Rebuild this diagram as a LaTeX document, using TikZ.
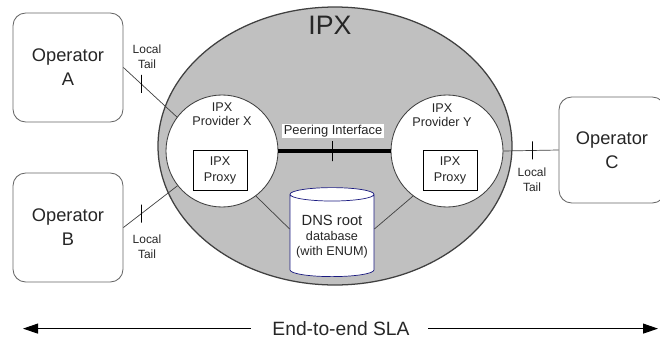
\documentclass[tikz,border=0pt]{standalone}
\usepackage{fontspec}
\setmainfont{Liberation Sans}
\usetikzlibrary{arrows.meta,positioning,shapes.geometric,calc}
\definecolor{ipxgray}{HTML}{C0C0C0}
\definecolor{ipxedge}{HTML}{404040}
\definecolor{dbnavy}{HTML}{1A1A80}
\begin{document}
\begin{tikzpicture}[
    opbox/.style={rectangle, rounded corners=9pt, draw=black!60, line width=0.6pt,
                  minimum width=2.75cm, minimum height=2.725cm, align=center,
                  font=\fontsize{13}{17}\selectfont},
    provider/.style={circle, draw=ipxedge, fill=white, line width=0.6pt,
                     minimum size=2.8cm, inner sep=0pt},
    proxybox/.style={rectangle, draw=black, fill=white, line width=0.5pt,
                     minimum width=1.35cm, minimum height=1cm, align=center,
                     font=\fontsize{9}{11.4}\selectfont},
    tail/.style={draw=ipxedge, line width=0.5pt},
    tailtick/.style={draw=black, line width=0.5pt, minimum width=0pt,
                     minimum height=0.45cm, inner sep=0pt},
    taillabel/.style={align=center, font=\fontsize{8.5}{10.7}\selectfont},
    every node/.style={text=black!85}
  ]
  \useasboundingbox (0,0) rectangle (16.5,8.475);

  % ---- IPX cloud ----
  \node[ellipse, fill=ipxgray, draw=ipxedge, line width=0.9pt,
        minimum width=8.85cm, minimum height=6.95cm] (IPX) at (8.375,4.825) {};
  \node[font=\fontsize{19}{22}\selectfont] (IPXL) at (8.25,7.85) {IPX};

  % ---- Providers ----
  \node[provider] (PX) at (5.55,4.7) {};
  \node[provider] (PY) at (11.175,4.7) {};
  \node[align=center, font=\fontsize{9}{10}\selectfont] (PXL) at (5.55,5.62) {IPX\\Provider X};
  \node[align=center, font=\fontsize{9}{10}\selectfont] (PYL) at (11.05,5.6) {IPX\\Provider Y};
  \node[proxybox] (XP) at (5.5,4.225) {IPX\\Proxy};
  \node[proxybox] (YP) at (11.25,4.225) {IPX\\Proxy};

  % ---- DNS root database ----
  \node[cylinder, shape border rotate=90, aspect=0.18, draw=dbnavy, fill=white,
        line width=0.5pt, minimum width=2.1cm, minimum height=2.225cm,
        inner sep=1pt, align=center, font=\fontsize{9}{10.5}\selectfont]
    (DNS) at (8.3,2.5625)
    {{\fontsize{10.5}{10.5}\selectfont DNS root}\\database\\(with ENUM)};
  \draw[tail] (PX.-53) -- (DNS.170);
  \draw[tail] (PY.233) -- (DNS.10);

  % ---- Peering interface ----
  \draw[line width=2.8pt] (PX.east) -- node[tailtick, pos=0.48, minimum height=0.5cm] (tkP) {} (PY.west);
  \node[fill=white, inner sep=1pt, font=\fontsize{9.2}{10}\selectfont] (PIL) at (8.325,5.2) {Peering Interface};

  % ---- Operators ----
  \node[opbox] (OpA) at (1.7,6.7875) {Operator\\A};
  \node[opbox] (OpB) at (1.7,2.7875) {Operator\\B};
  \node[opbox, minimum width=2.65cm, minimum height=2.65cm] (OpC) at (15.3,4.725) {Operator\\C};

  % ---- Local tails ----
  \draw[tail] (OpA.east) -- node[tailtick, pos=0.33] (tkA) {} (PX.143);
  \draw[tail] (OpB.east) -- node[tailtick, pos=0.33] (tkB) {} (PX.218);
  \draw[tail] (PY.east) -- node[tailtick, pos=0.52] (tkC) {} (OpC.west);
  \node[taillabel] (LTA) at (3.675,7.05) {Local\\Tail};
  \node[taillabel] (LTB) at (3.675,2.3) {Local\\Tail};
  \node[taillabel] (LTC) at (13.3,3.975) {Local\\Tail};

  % ---- End-to-end SLA ----
  \node[font=\fontsize{13.7}{16}\selectfont] (SLA) at (8.525,0.26) {End-to-end SLA};
  \coordinate (slaL) at (0.575,0.26);
  \coordinate (slaR) at (16.45,0.26);
  \draw[line width=0.7pt, -{Triangle[length=0.375cm, width=0.25cm]}]
    ([xshift=-0.42cm]SLA.west) -- (slaL);
  \draw[line width=0.7pt, -{Triangle[length=0.375cm, width=0.25cm]}]
    ([xshift=0.34cm]SLA.east) -- (slaR);

\end{tikzpicture}
\end{document}
